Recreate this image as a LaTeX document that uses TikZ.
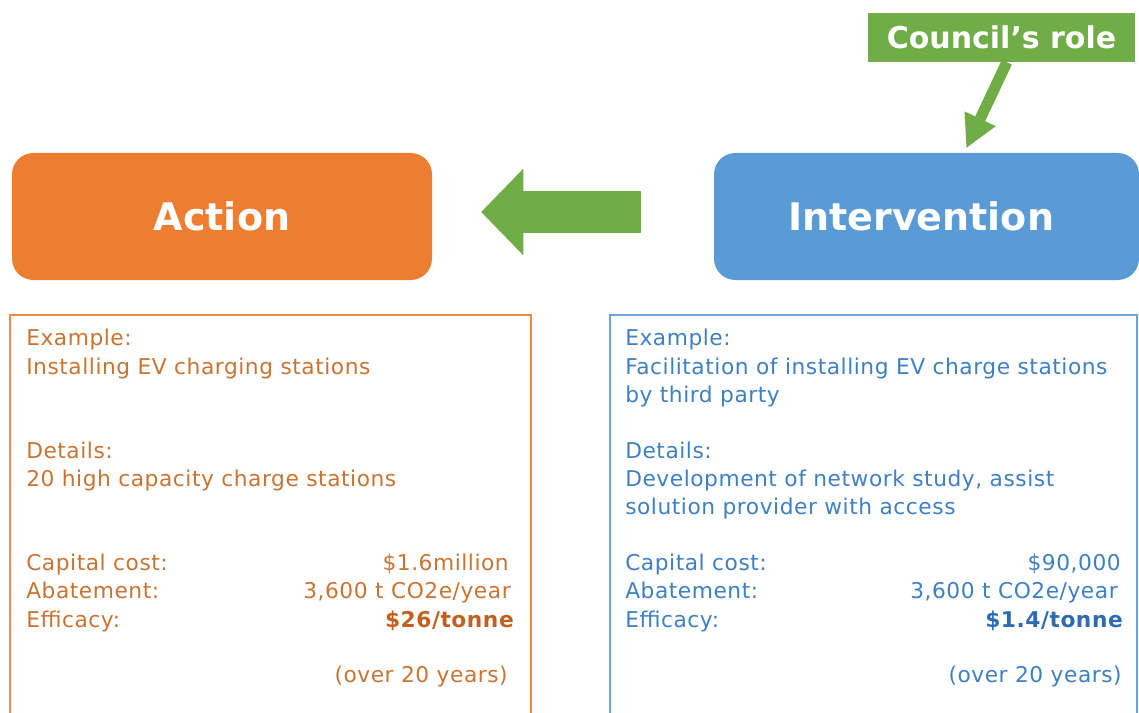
\documentclass[tikz,border=0pt]{standalone}
\usepackage{fontspec}
\setmainfont{DejaVu Sans}
\newfontfamily\bodyfont[LetterSpace=2.5]{DejaVu Sans}
\usetikzlibrary{arrows.meta,calc}

\definecolor{actfill}{HTML}{ED7D31}
\definecolor{intfill}{HTML}{5B9BD5}
\definecolor{rolefill}{HTML}{70AD47}
\definecolor{actline}{HTML}{F08A48}
\definecolor{intline}{HTML}{6AA4DA}
\definecolor{acttext}{HTML}{C87434}
\definecolor{actbold}{HTML}{C0611F}
\definecolor{inttext}{HTML}{3F80C2}
\definecolor{intbold}{HTML}{2D6CB2}

\tikzset{
  x=0.75pt, y=-0.75pt,
  headbox/.style={rounded corners=16pt, minimum width=#1, minimum height=95.25pt,
    inner sep=0pt, text=white, font=\fontsize{28.5}{34}\selectfont\bfseries},
  rolebox/.style={fill=rolefill, minimum width=200.25pt, minimum height=36.75pt,
    inner sep=0pt, text=white, font=\fontsize{22.5}{26}\selectfont\bfseries},
  panel/.style={line width=2.2pt},
  lline/.style={anchor=base west, inner sep=0pt, font=\bodyfont\fontsize{16.3}{20}\selectfont},
  rline/.style={anchor=base east, inner sep=0pt, font=\bodyfont\fontsize{16.3}{20}\selectfont},
  blockarrow/.style={rolefill, line width=31.5pt,
    -{Triangle[width=65pt, length=31.5pt, line width=0pt]}},
  rolearrow/.style={rolefill, line width=8.3pt,
    -{Triangle[width=26pt, length=24pt, line width=0pt]}},
}

\begin{document}
\begin{tikzpicture}
\useasboundingbox (0,0) rectangle (1139,713);
\begin{scope}
\clip (0,0) rectangle (1139,713);

% heading boxes
\node[headbox=315pt, fill=actfill] (act) at (222,216.5) {Action};
\node[headbox=318.75pt, fill=intfill] (intv) at (926.5,216.5) {\hspace*{-8pt}Intervention};
\node[rolebox] (role) at (1001.5,37.5) {Council’s role};

% connectors
\draw[blockarrow] ($(intv.west)+(-73,-4.5)$) -- ($(act.east)+(49,-4.5)$);
\draw[rolearrow] ([xshift=4pt]role.south) -- ([xshift=30pt,yshift=3.75pt]intv.north);

% detail panels
\draw[panel, actline] (10,315) rectangle (531,740);
\draw[panel, intline] (610,315) rectangle (1137,740);

% Action panel text
\begin{scope}[acttext]
\node[lline] (a1) at (26,345) {Example:};
\node[lline] (a2) at (26,374) {Installing EV charging stations};
\node[lline] (a3) at (26,458) {Details:};
\node[lline] (a4) at (26,486) {20 high capacity charge stations};
\node[lline] (a5) at (26,570) {Capital cost:};
\node[lline] (a6) at (26,598) {Abatement:};
\node[lline] (a7) at (26,627) {Efficacy:};
\node[rline] (a8) at (509,570) {\$1.6million};
\node[rline] (a9) at (511,598) {3,600 t CO2e/year};
\node[rline, text=actbold] (a10) at (514,627) {\bfseries\$26/tonne};
\node[rline] (a11) at (508,682) {(over 20 years)};
\end{scope}

% Intervention panel text
\begin{scope}[inttext]
\node[lline] (b1) at (625,345) {Example:};
\node[lline] (b2) at (625,374) {Facilitation of installing EV charge stations};
\node[lline] (b3) at (625,402) {by third party};
\node[lline] (b4) at (625,458) {Details:};
\node[lline] (b5) at (625,486) {Development of network study, assist};
\node[lline] (b6) at (625,514) {solution provider with access};
\node[lline] (b7) at (625,570) {Capital cost:};
\node[lline] (b8) at (625,598) {Abatement:};
\node[lline] (b9) at (625,627) {Efficacy:};
\node[rline] (b10) at (1121,570) {\$90,000};
\node[rline] (b11) at (1118,598) {3,600 t CO2e/year};
\node[rline, text=intbold] (b12) at (1123,627) {\bfseries\$1.4/tonne};
\node[rline] (b13) at (1122,682) {(over 20 years)};
\end{scope}
\end{scope}
\end{tikzpicture}
\end{document}
